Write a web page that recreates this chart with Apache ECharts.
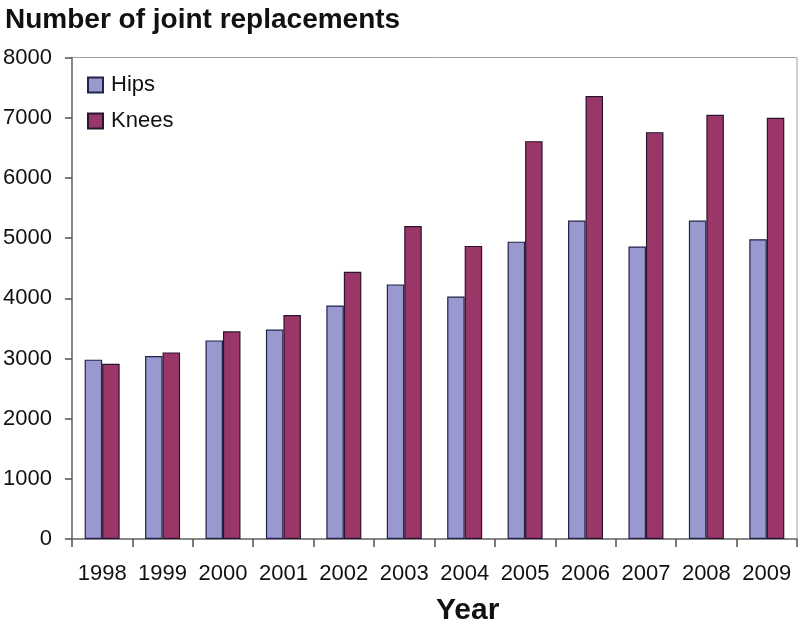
<!DOCTYPE html>
<html>
<head>
<meta charset="utf-8">
<script src="https://cdn.jsdelivr.net/npm/echarts@6/dist/echarts.min.js"></script>
<style>html,body{margin:0;padding:0;background:#fff}#c{width:800px;height:622px}</style>
</head>
<body>
<div id="c"></div>
<script>
const years = ['1998','1999','2000','2001','2002','2003','2004','2005','2006','2007','2008','2009'];
const hips = [2980, 3040, 3300, 3480, 3880, 4230, 4030, 4940, 5290, 4860, 5290, 4980];
const knees = [2910, 3100, 3450, 3720, 4440, 5200, 4870, 6610, 7360, 6760, 7050, 7000];
const yTicks = [0, 1000, 2000, 3000, 4000, 5000, 6000, 7000, 8000];

const chart = echarts.init(document.getElementById('c'));
const font = 'Liberation Sans, Arial, sans-serif';
chart.setOption({
  animation: false,
  textStyle: {fontFamily: font},
  title: [
    {text: 'Number of joint replacements', left: 0, top: 1,
     textStyle: {fontFamily: font, fontSize: 28, fontWeight: 'bold', color: '#111'}},
    {text: 'Year', left: 431, top: 591,
     textStyle: {fontFamily: font, fontSize: 30, fontWeight: 'bold', color: '#111'}}
  ],
  legend: {
    orient: 'vertical', left: 87, top: 74, padding: 0,
    itemWidth: 15, itemHeight: 15, itemGap: 14,
    icon: 'rect',
    textStyle: {fontFamily: font, fontSize: 22, color: '#111', padding: [0,0,0,3]},
    data: ['Hips', 'Knees']
  },
  grid: {left: 69, right: 3, top: 57.5, bottom: 83, show: true, borderColor: '#a0a0a0', borderWidth: 1},
  xAxis: {
    type: 'category', data: years,
    axisLine: {lineStyle: {color: '#707070', width: 1.5}},
    axisTick: {show: true, length: 8, lineStyle: {color: '#505050', width: 1.5}},
    axisLabel: {fontFamily: font, fontSize: 22, color: '#111', margin: 24, interval: 0}
  },
  yAxis: {
    type: 'value', min: 0, max: 8000, interval: 1000,
    axisLine: {show: true, lineStyle: {color: '#707070', width: 1.5}},
    axisTick: {show: true, length: 7, lineStyle: {color: '#505050', width: 1.5}},
    splitLine: {show: false},
    axisLabel: {fontFamily: font, fontSize: 22, color: '#111', margin: 20,
      formatter: v => String(v)}
  },
  series: [
    {name: 'Hips', type: 'bar', data: hips, barWidth: 17.5, barGap: '0%',
     itemStyle: {color: '#9999cf', borderColor: '#22224a', borderWidth: 1.2}},
    {name: 'Knees', type: 'bar', data: knees, barWidth: 17.5, barGap: '0%',
     itemStyle: {color: '#9b3768', borderColor: '#2a1530', borderWidth: 1.2}}
  ]
});
</script>
</body>
</html>
